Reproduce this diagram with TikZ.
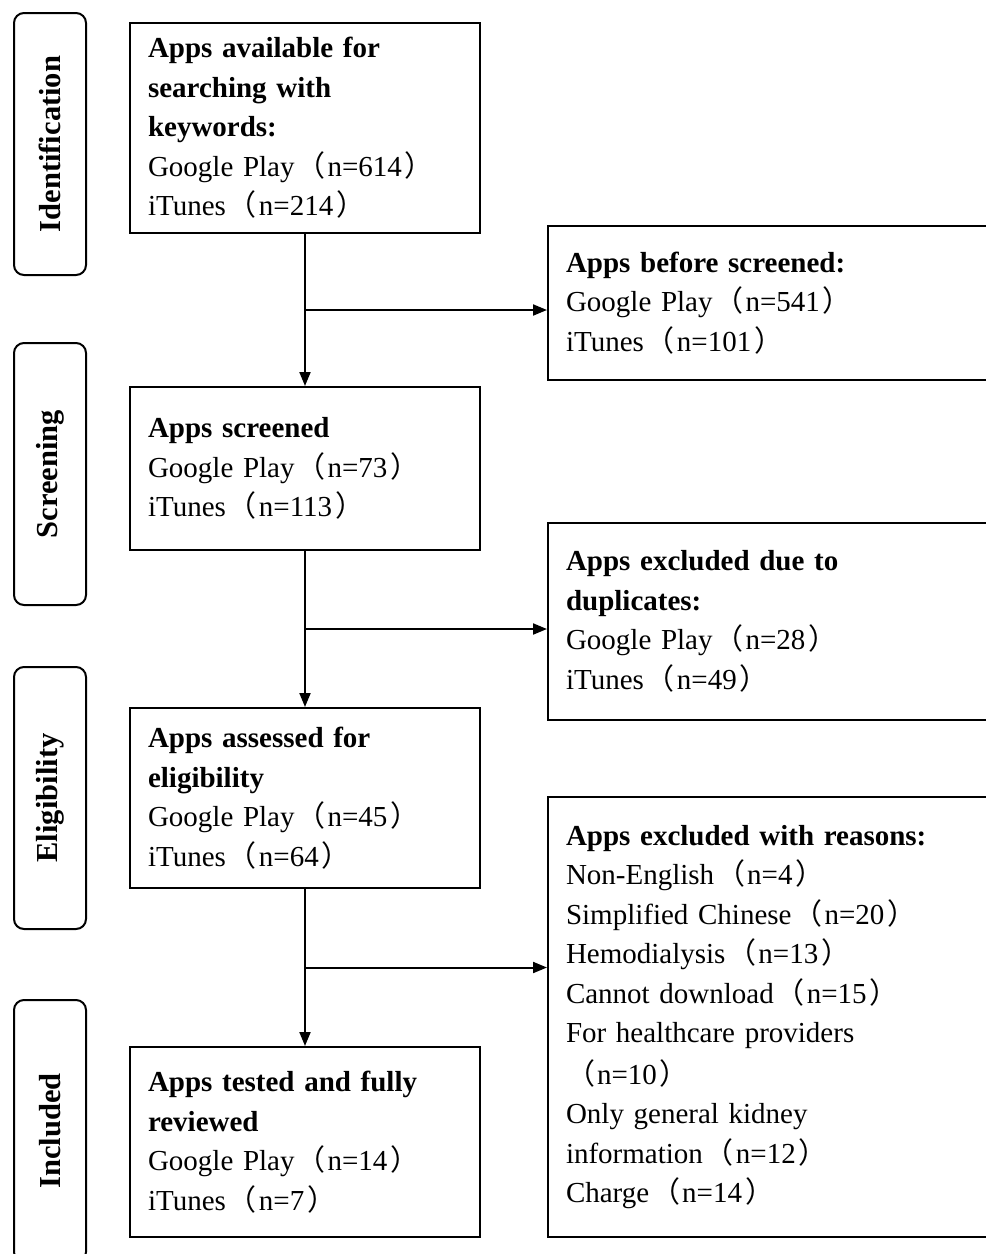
\documentclass[tikz,border=0pt]{standalone}
\usepackage{fontspec}
\setmainfont{Liberation Serif}
\newfontfamily\cjk{Noto Sans CJK SC}
\usetikzlibrary{positioning}
\usetikzlibrary{arrows.meta}
\usetikzlibrary{calc}
\newcommand{\fwl}{{\cjk\kern2pt（\kern2pt}}
\newcommand{\fwr}{{\cjk\kern3pt）}}

\begin{document}
\begin{tikzpicture}[x=1pt,y=1pt,>={Triangle[length=14pt,width=11pt]},line width=2pt,
		main box/.style={rectangle,draw,text width=314pt,align=left,inner xsep=18pt,inner ysep=0pt,font=\fontsize{29}{39.5}\selectfont},
		excl box/.style={main box,text width=404pt},
		side box/.style={rectangle,draw,rounded corners=10pt,rotate=90,minimum width=262pt,minimum height=72pt,font=\fontsize{30.5}{32}\selectfont\bfseries}]
		
		\useasboundingbox (0,0) rectangle (986,-1254);
		
		% stages
		\node[side box] (id) at (50,-144) {Identification};
		\node[side box] (sc) at (50,-474) {Screening};
		\node[side box] (el) at (50,-798) {Eligibility};
		\node[side box] (in) at (50,-1131) {Included};
		
		% main column
		\node[main box, minimum height=210pt] (a) at (305,-128) {\textbf{Apps available for}\\\textbf{searching with}\\\textbf{keywords:}\\Google Play\fwl n=614\fwr\\iTunes\fwl n=214\fwr};
		\node[main box, minimum height=163pt] (b) [below of=a, node distance=340.5pt] {\textbf{Apps screened}\\Google Play\fwl n=73\fwr\\iTunes\fwl n=113\fwr};
		\node[main box, minimum height=180pt] (c) [below of=b, node distance=329.5pt] {\textbf{Apps assessed for}\\\textbf{eligibility}\\Google Play\fwl n=45\fwr\\iTunes\fwl n=64\fwr};
		\node[main box, minimum height=190pt] (d) [below of=c, node distance=344pt] {\textbf{Apps tested and fully}\\\textbf{reviewed}\\Google Play\fwl n=14\fwr\\iTunes\fwl n=7\fwr};
		
		% excluded
		\node[excl box, minimum height=154pt] (e) at (768,-303) {\textbf{Apps before screened:}\\Google Play\fwl n=541\fwr\\iTunes\fwl n=101\fwr};
		\node[excl box, minimum height=197pt] (f) at (768,-621.5) {\textbf{Apps excluded due to}\\\textbf{duplicates:}\\Google Play\fwl n=28\fwr\\iTunes\fwl n=49\fwr};
		\node[excl box, minimum height=440pt] (g) at (768,-1017) {\textbf{Apps excluded with reasons:}\\Non-English\fwl n=4\fwr\\Simplified Chinese\fwl n=20\fwr\\Hemodialysis\fwl n=13\fwr\\Cannot download\fwl n=15\fwr\\For healthcare providers\\\fwl n=10\fwr\\Only general kidney\\information\fwl n=12\fwr\\Charge\fwl n=14\fwr};
		
		\coordinate (ab) at ($(a.south)!0.5!(b.north)$);
		\coordinate (bc) at ($(b.south)!0.5!(c.north)$);
		\coordinate (cd) at ($(c.south)!0.5!(d.north)$);
		
		\draw[->] (a) -- (b);
		\draw[->] (b) -- (c);
		\draw[->] (c) -- (d);
		\draw[->] (ab) -- (ab -| e.west);
		\draw[->] (bc) -- (bc -| f.west);
		\draw[->] (cd) -- (cd -| g.west);
\end{tikzpicture}
\end{document}
